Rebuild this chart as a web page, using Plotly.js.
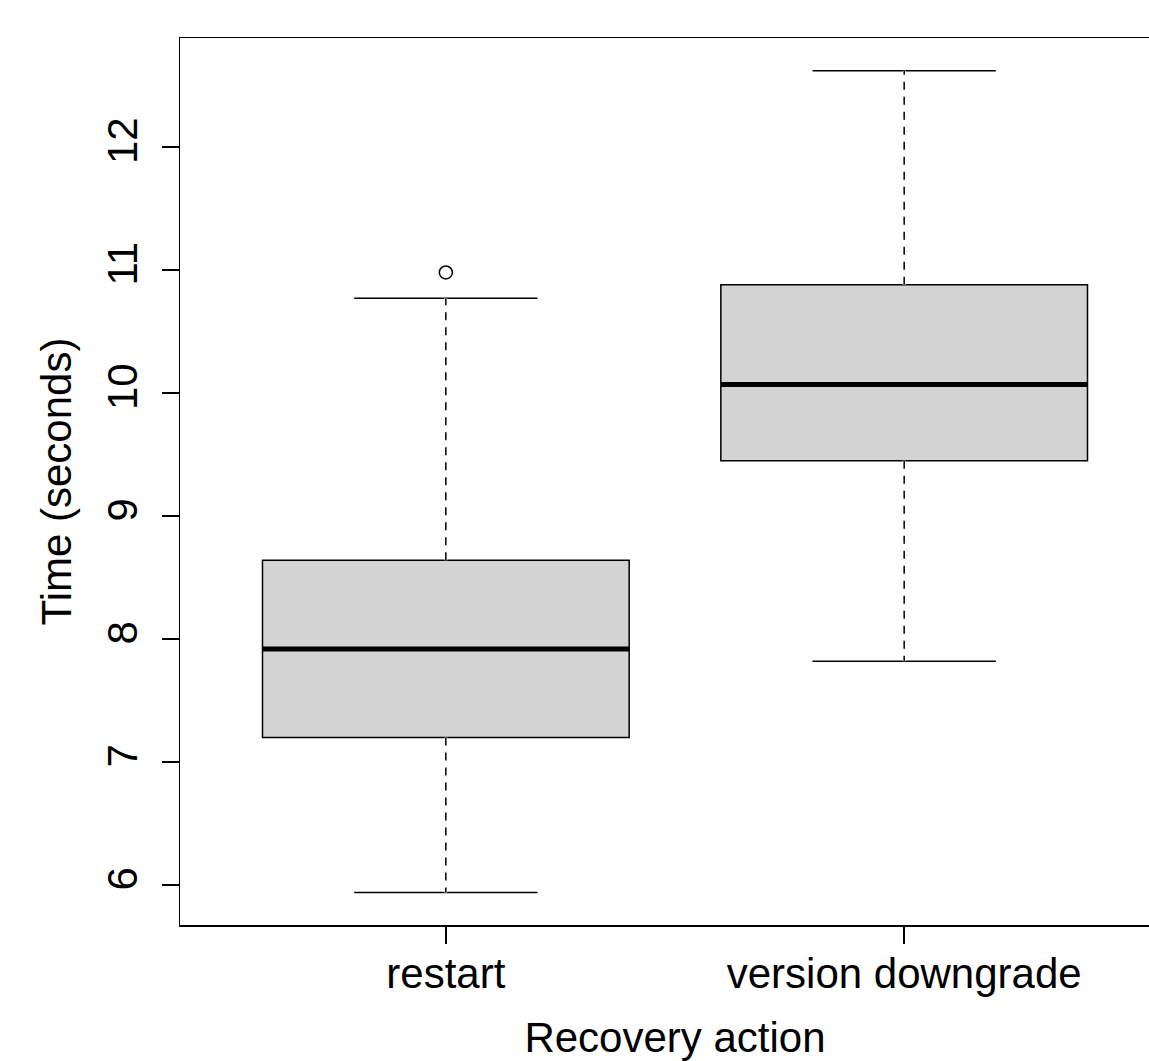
<!DOCTYPE html>
<html>
<head>
<meta charset="utf-8">
<script src="https://cdn.plot.ly/plotly-3.0.1.min.js"></script>
<style>
html, body { margin: 0; padding: 0; overflow: hidden; background: #fff; }
#chart { width: 1200px; height: 1061px; }
</style>
</head>
<body>
<div id="chart"></div>
<script>
// Data
const categories = ["restart", "version downgrade"];
const lowerWhisker = [5.94, 7.82];
const q1 = [7.20, 9.45];
const medians = [7.92, 10.07];
const q3 = [8.64, 10.88];
const upperWhisker = [10.77, 12.62];
const outlierCategory = ["restart"];
const outlierValues = [10.98];
const yTicks = [6, 7, 8, 9, 10, 11, 12];

const positions = categories.map((c, i) => i + 1);
const boxWidth = 0.8;
const font = "Liberation Sans, Arial, sans-serif";

const traces = [];

traces.push({
  type: "box",
  x: positions,
  q1: q1,
  median: medians,
  q3: q3,
  lowerfence: lowerWhisker,
  upperfence: upperWhisker,
  width: boxWidth,
  whiskerwidth: 0.5,
  fillcolor: "#D3D3D3",
  line: { color: "#000000", width: 1.5 },
  boxpoints: false,
  hoverinfo: "skip",
  showlegend: false
});

// dashed whiskers: erase solid whisker, then redraw dashed
positions.forEach((p, i) => {
  [[q3[i], upperWhisker[i]], [lowerWhisker[i], q1[i]]].forEach(seg => {
    traces.push({
      type: "scatter", mode: "lines", x: [p, p], y: seg,
      line: { color: "#ffffff", width: 3 }, hoverinfo: "skip", showlegend: false
    });
  });
});
positions.forEach((p, i) => {
  [[q3[i], upperWhisker[i]], [q1[i], lowerWhisker[i]]].forEach(seg => {
    traces.push({
      type: "scatter", mode: "lines", x: [p, p], y: seg,
      line: { color: "#000000", width: 1.5, dash: "8px,7px" }, hoverinfo: "skip", showlegend: false
    });
  });
  // thick median line
  traces.push({
    type: "scatter", mode: "lines",
    x: [p - boxWidth / 2, p + boxWidth / 2], y: [medians[i], medians[i]],
    line: { color: "#000000", width: 5 }, hoverinfo: "skip", showlegend: false
  });
});

// outliers
traces.push({
  type: "scatter", mode: "markers",
  x: outlierCategory.map(c => categories.indexOf(c) + 1),
  y: outlierValues,
  marker: { symbol: "circle-open", size: 13, color: "#000000", line: { width: 1.5 } },
  hoverinfo: "skip", showlegend: false
});

const layout = {
  width: 1200,
  height: 1061,
  margin: { l: 180, r: 30, t: 38, b: 136 },
  paper_bgcolor: "#ffffff",
  plot_bgcolor: "#ffffff",
  font: { family: font, size: 42, color: "#000000" },
  showlegend: false,
  xaxis: {
    range: [0.42, 2.58],
    tickmode: "array",
    tickvals: positions,
    ticktext: categories,
    ticks: "outside",
    ticklen: 17,
    tickwidth: 1.5,
    tickcolor: "#000000",
    showgrid: false,
    zeroline: false,
    showline: true,
    mirror: true,
    linecolor: "#000000",
    linewidth: 1.5,
    ticklabelstandoff: -6,
    tickfont: { family: font, size: 42 },
    title: { text: "Recovery action", font: { family: font, size: 42 }, standoff: 28 },
    automargin: false
  },
  yaxis: {
    range: [5.676, 12.886],
    tickmode: "array",
    tickvals: yTicks,
    ticktext: yTicks.map(String),
    tickangle: -90,
    ticks: "outside",
    ticklen: 17,
    tickwidth: 1.5,
    tickcolor: "#000000",
    showgrid: false,
    zeroline: false,
    showline: true,
    mirror: true,
    linecolor: "#000000",
    linewidth: 1.5,
    ticklabelstandoff: 8,
    tickfont: { family: font, size: 42 },
    title: { text: "Time (seconds)", font: { family: font, size: 42 }, standoff: 14 },
    automargin: false
  }
};

Plotly.newPlot("chart", traces, layout, { staticPlot: true, displayModeBar: false });
</script>
</body>
</html>
